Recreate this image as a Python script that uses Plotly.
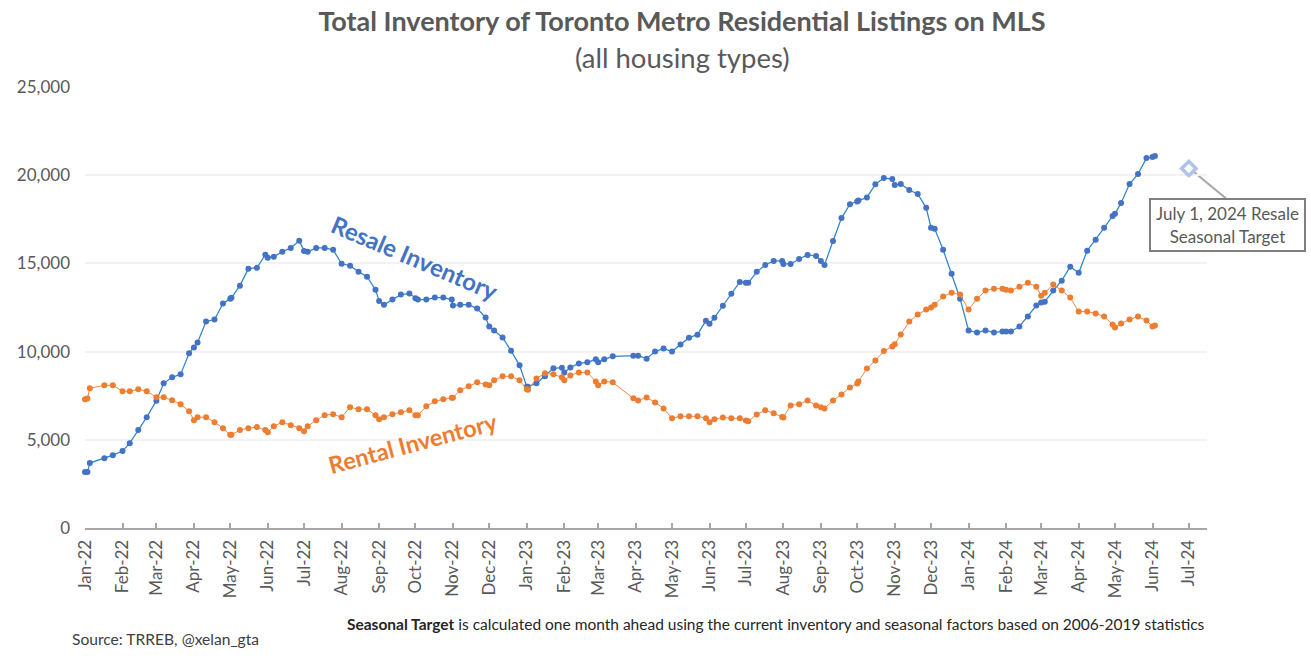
import plotly.graph_objects as go

# dates the listings were counted on (Mondays + first of the month)
dates = [
    '2022-01-01', '2022-01-03', '2022-01-05', '2022-01-17', '2022-01-24',
    '2022-02-01', '2022-02-07', '2022-02-14', '2022-02-21',
    '2022-03-01', '2022-03-07', '2022-03-14', '2022-03-21', '2022-03-28',
    '2022-04-01', '2022-04-04', '2022-04-11', '2022-04-18', '2022-04-25',
    '2022-05-01', '2022-05-02', '2022-05-09', '2022-05-16', '2022-05-23', '2022-05-30',
    '2022-06-01', '2022-06-06', '2022-06-13', '2022-06-20', '2022-06-27',
    '2022-07-01', '2022-07-04', '2022-07-11', '2022-07-18', '2022-07-25',
    '2022-08-01', '2022-08-08', '2022-08-15', '2022-08-22', '2022-08-29',
    '2022-09-01', '2022-09-05', '2022-09-12', '2022-09-19', '2022-09-26',
    '2022-10-01', '2022-10-03', '2022-10-10', '2022-10-17', '2022-10-24', '2022-10-31',
    '2022-11-01', '2022-11-07', '2022-11-14', '2022-11-21', '2022-11-28',
    '2022-12-01', '2022-12-05', '2022-12-12', '2022-12-19', '2022-12-26',
    '2023-01-01', '2023-01-02', '2023-01-09', '2023-01-16', '2023-01-23', '2023-01-30',
    '2023-02-01', '2023-02-06', '2023-02-13', '2023-02-20', '2023-02-27',
    '2023-03-01', '2023-03-06', '2023-03-13', '2023-03-30',
    '2023-04-03', '2023-04-10', '2023-04-17', '2023-04-24',
    '2023-05-01', '2023-05-08', '2023-05-15', '2023-05-22', '2023-05-29',
    '2023-06-01', '2023-06-05', '2023-06-12', '2023-06-19', '2023-06-26',
    '2023-07-01', '2023-07-03', '2023-07-10', '2023-07-17', '2023-07-24', '2023-07-31',
    '2023-08-01', '2023-08-07', '2023-08-14', '2023-08-21', '2023-08-28',
    '2023-09-01', '2023-09-04', '2023-09-11', '2023-09-18', '2023-09-25',
    '2023-10-01', '2023-10-02', '2023-10-09', '2023-10-16', '2023-10-23', '2023-10-30',
    '2023-11-01', '2023-11-06', '2023-11-13', '2023-11-20', '2023-11-27',
    '2023-12-01', '2023-12-04', '2023-12-11', '2023-12-18', '2023-12-25',
    '2024-01-01', '2024-01-08', '2024-01-15', '2024-01-22', '2024-01-29',
    '2024-02-01', '2024-02-05', '2024-02-12', '2024-02-19', '2024-02-26',
    '2024-03-01', '2024-03-04', '2024-03-11', '2024-03-18', '2024-03-25',
    '2024-04-01', '2024-04-08', '2024-04-15', '2024-04-22', '2024-04-29',
    '2024-05-01', '2024-05-06', '2024-05-13', '2024-05-20', '2024-05-27',
    '2024-06-01', '2024-06-03',
]

resale = [
    3170, 3170, 3680, 3960, 4130,
    4360, 4810, 5550, 6280,
    7220, 8200, 8540, 8710, 9900,
    10230, 10520, 11700, 11820, 12720,
    12990, 13050, 13740, 14700, 14750, 15490,
    15320, 15380, 15660, 15880, 16280,
    15710, 15660, 15880, 15880, 15770,
    14980, 14870, 14530, 14250, 13510,
    12870, 12660, 12950, 13230, 13290,
    13020, 12950, 12950, 13060, 13060, 12950,
    12610, 12660, 12660, 12440, 11930,
    11420, 11200, 10800, 10050, 9220,
    8010, 8010, 8200, 8600, 9050, 9090,
    8820, 9100, 9330, 9390, 9560,
    9390, 9560, 9730, 9770,
    9770, 9600, 10000, 10170,
    10000, 10400, 10790, 10960, 11750,
    11580, 11920, 12600, 13280, 13950,
    13900, 13900, 14520, 14910, 15140, 15140,
    14970, 14970, 15250, 15480, 15420,
    15140, 14910, 16270, 17570, 18360,
    18510, 18560, 18740, 19480, 19840, 19780,
    19440, 19500, 19160, 18940, 18150,
    17020, 16960, 15770, 14420, 13000,
    11200, 11080, 11200, 11080, 11140,
    11140, 11140, 11420, 11990, 12610,
    12780, 12830, 13460, 14020, 14810,
    14470, 15720, 16340, 17020, 17690,
    17810, 18430, 19500, 20070, 20970,
    21030, 21090,
]

rental = [
    7300, 7340, 7920, 8090, 8090,
    7750, 7750, 7860, 7750,
    7410, 7410, 7240, 7020, 6620,
    6110, 6280, 6280, 6000, 5660,
    5280, 5290, 5550, 5660, 5720, 5550,
    5430, 5770, 6000, 5830, 5660,
    5490, 5770, 6110, 6390, 6450,
    6280, 6850, 6730, 6730, 6390,
    6170, 6280, 6450, 6560, 6680,
    6390, 6390, 6900, 7180, 7300, 7390,
    7390, 7810, 8030, 8260, 8140,
    8090, 8370, 8600, 8600, 8370,
    7860, 7840, 8480, 8770, 8710, 8540,
    8370, 8650, 8820, 8820, 8310,
    8090, 8310, 8260, 7350,
    7230, 7400, 7120, 6780,
    6220, 6330, 6330, 6330, 6220,
    5990, 6160, 6270, 6220, 6220,
    6100, 6050, 6440, 6670, 6500, 6290,
    6270, 6950, 7010, 7230, 6950,
    6840, 6780, 7230, 7570, 7970,
    8190, 8310, 9040, 9490, 10030, 10290,
    10410, 10970, 11700, 12100, 12380,
    12500, 12660, 13120, 13340, 13230,
    12380, 13000, 13460, 13570, 13570,
    13510, 13460, 13680, 13910, 13680,
    13170, 13340, 13800, 13460, 13060,
    12270, 12270, 12160, 11990, 11540,
    11370, 11590, 11820, 11990, 11760,
    11420, 11480,
]

assert len(dates) == len(resale) == len(rental)

target_date = ['2024-07-01']
target_value = [20380]

font = 'Lato'
grey = '#595959'

# plot area in page pixels
left, right, top, bottom = 85, 1207, 86.5, 528.5

def px_x(p):
    return (p - left) / (right - left)

def px_y(p):
    return (bottom - p) / (bottom - top)

fig = go.Figure()
fig.add_trace(go.Scatter(x=dates, y=resale, mode='lines+markers', name='Resale Inventory',
                         line=dict(color='#2E86C8', width=1.25),
                         marker=dict(color='#4472C4', size=6), cliponaxis=False))
fig.add_trace(go.Scatter(x=dates, y=rental, mode='lines+markers', name='Rental Inventory',
                         line=dict(color='#F08A45', width=1),
                         marker=dict(color='#ED7D31', size=6), cliponaxis=False))
fig.add_trace(go.Scatter(x=target_date, y=target_value, mode='markers', name='Seasonal Target',
                         marker=dict(symbol='diamond-open', color='#AFC3E8', size=11,
                                     line=dict(color='#AFC3E8', width=3.5)), cliponaxis=False))

# callout leader, from the target marker down to the box
fig.add_shape(type='line', xref='paper', yref='paper',
              x0=px_x(1193), y0=px_y(171), x1=px_x(1227), y1=px_y(199),
              line=dict(color='#A6A6A6', width=2), layer='below')

fig.update_layout(
    width=1311, height=658,
    margin=dict(l=left, r=1311 - right, t=top, b=658 - bottom),
    paper_bgcolor='white', plot_bgcolor='white',
    showlegend=False,
    font=dict(family=font, color=grey),
    title=dict(text='<b>Total Inventory of Toronto Metro Residential Listings on MLS</b>',
               x=682 / 1311, xanchor='center', y=1 - 22 / 658, yanchor='middle',
               font=dict(family=font, size=27, color=grey)),
)
fig.update_xaxes(type='date', range=['2022-01-01', '2024-07-16'],
                 tick0='2022-01-01', dtick='M1', tickformat='%b-%y', tickangle=-90,
                 ticks='inside', ticklen=5, tickwidth=1.5, tickcolor='#A6A6A6',
                 showline=True, linecolor='#A6A6A6', linewidth=2,
                 showgrid=False, zeroline=False, ticklabelstandoff=3,
                 tickfont=dict(family=font, size=17, color=grey))
fig.update_yaxes(range=[0, 25000], tick0=0, dtick=5000, tickformat=',d',
                 showgrid=True, gridcolor='#F2F2F2', gridwidth=1.5,
                 zeroline=False, showline=False, ticks='', ticklen=0, ticklabelstandoff=14,
                 tickfont=dict(family=font, size=17, color=grey))

fig.add_annotation(text='(all housing types)', xref='paper', yref='paper',
                   x=px_x(682), y=px_y(57), xanchor='center', yanchor='middle',
                   showarrow=False, font=dict(family=font, size=27.5, color=grey))
fig.add_annotation(text='<b>Resale Inventory</b>', xref='paper', yref='paper',
                   x=px_x(415), y=px_y(257), xanchor='center', yanchor='middle',
                   textangle=23, showarrow=False, font=dict(family=font, size=24, color='#4472C4'))
fig.add_annotation(text='<b>Rental Inventory</b>', xref='paper', yref='paper',
                   x=px_x(413), y=px_y(443), xanchor='center', yanchor='middle',
                   textangle=-15, showarrow=False, font=dict(family=font, size=23.5, color='#ED7D31'))
fig.add_annotation(text='July 1, 2024 Resale<br>Seasonal Target', xref='paper', yref='paper',
                   x=px_x(1227.5), y=px_y(225), xanchor='center', yanchor='middle',
                   width=151, height=48, align='center', showarrow=False,
                   bgcolor='white', bordercolor='#7F7F7F', borderwidth=2,
                   font=dict(family=font, size=17, color=grey))
fig.add_annotation(text='Source: TRREB, @xelan_gta', xref='paper', yref='paper',
                   x=px_x(72), y=px_y(640), xanchor='left', yanchor='middle', xshift=-2,
                   showarrow=False, font=dict(family=font, size=15.6, color='#404040'))
fig.add_annotation(text='<b>Seasonal Target</b> is calculated one month ahead using the current inventory '
                        'and seasonal factors based on 2006-2019 statistics',
                   xref='paper', yref='paper', x=1, y=px_y(625),
                   xanchor='right', yanchor='middle', showarrow=False,
                   font=dict(family=font, size=15.5, color='#262626'))

# the default page leaves an 8px margin around the figure
fig.write_html('out.html', config={'displayModeBar': False},
               post_script="document.body.style.margin='0';")
